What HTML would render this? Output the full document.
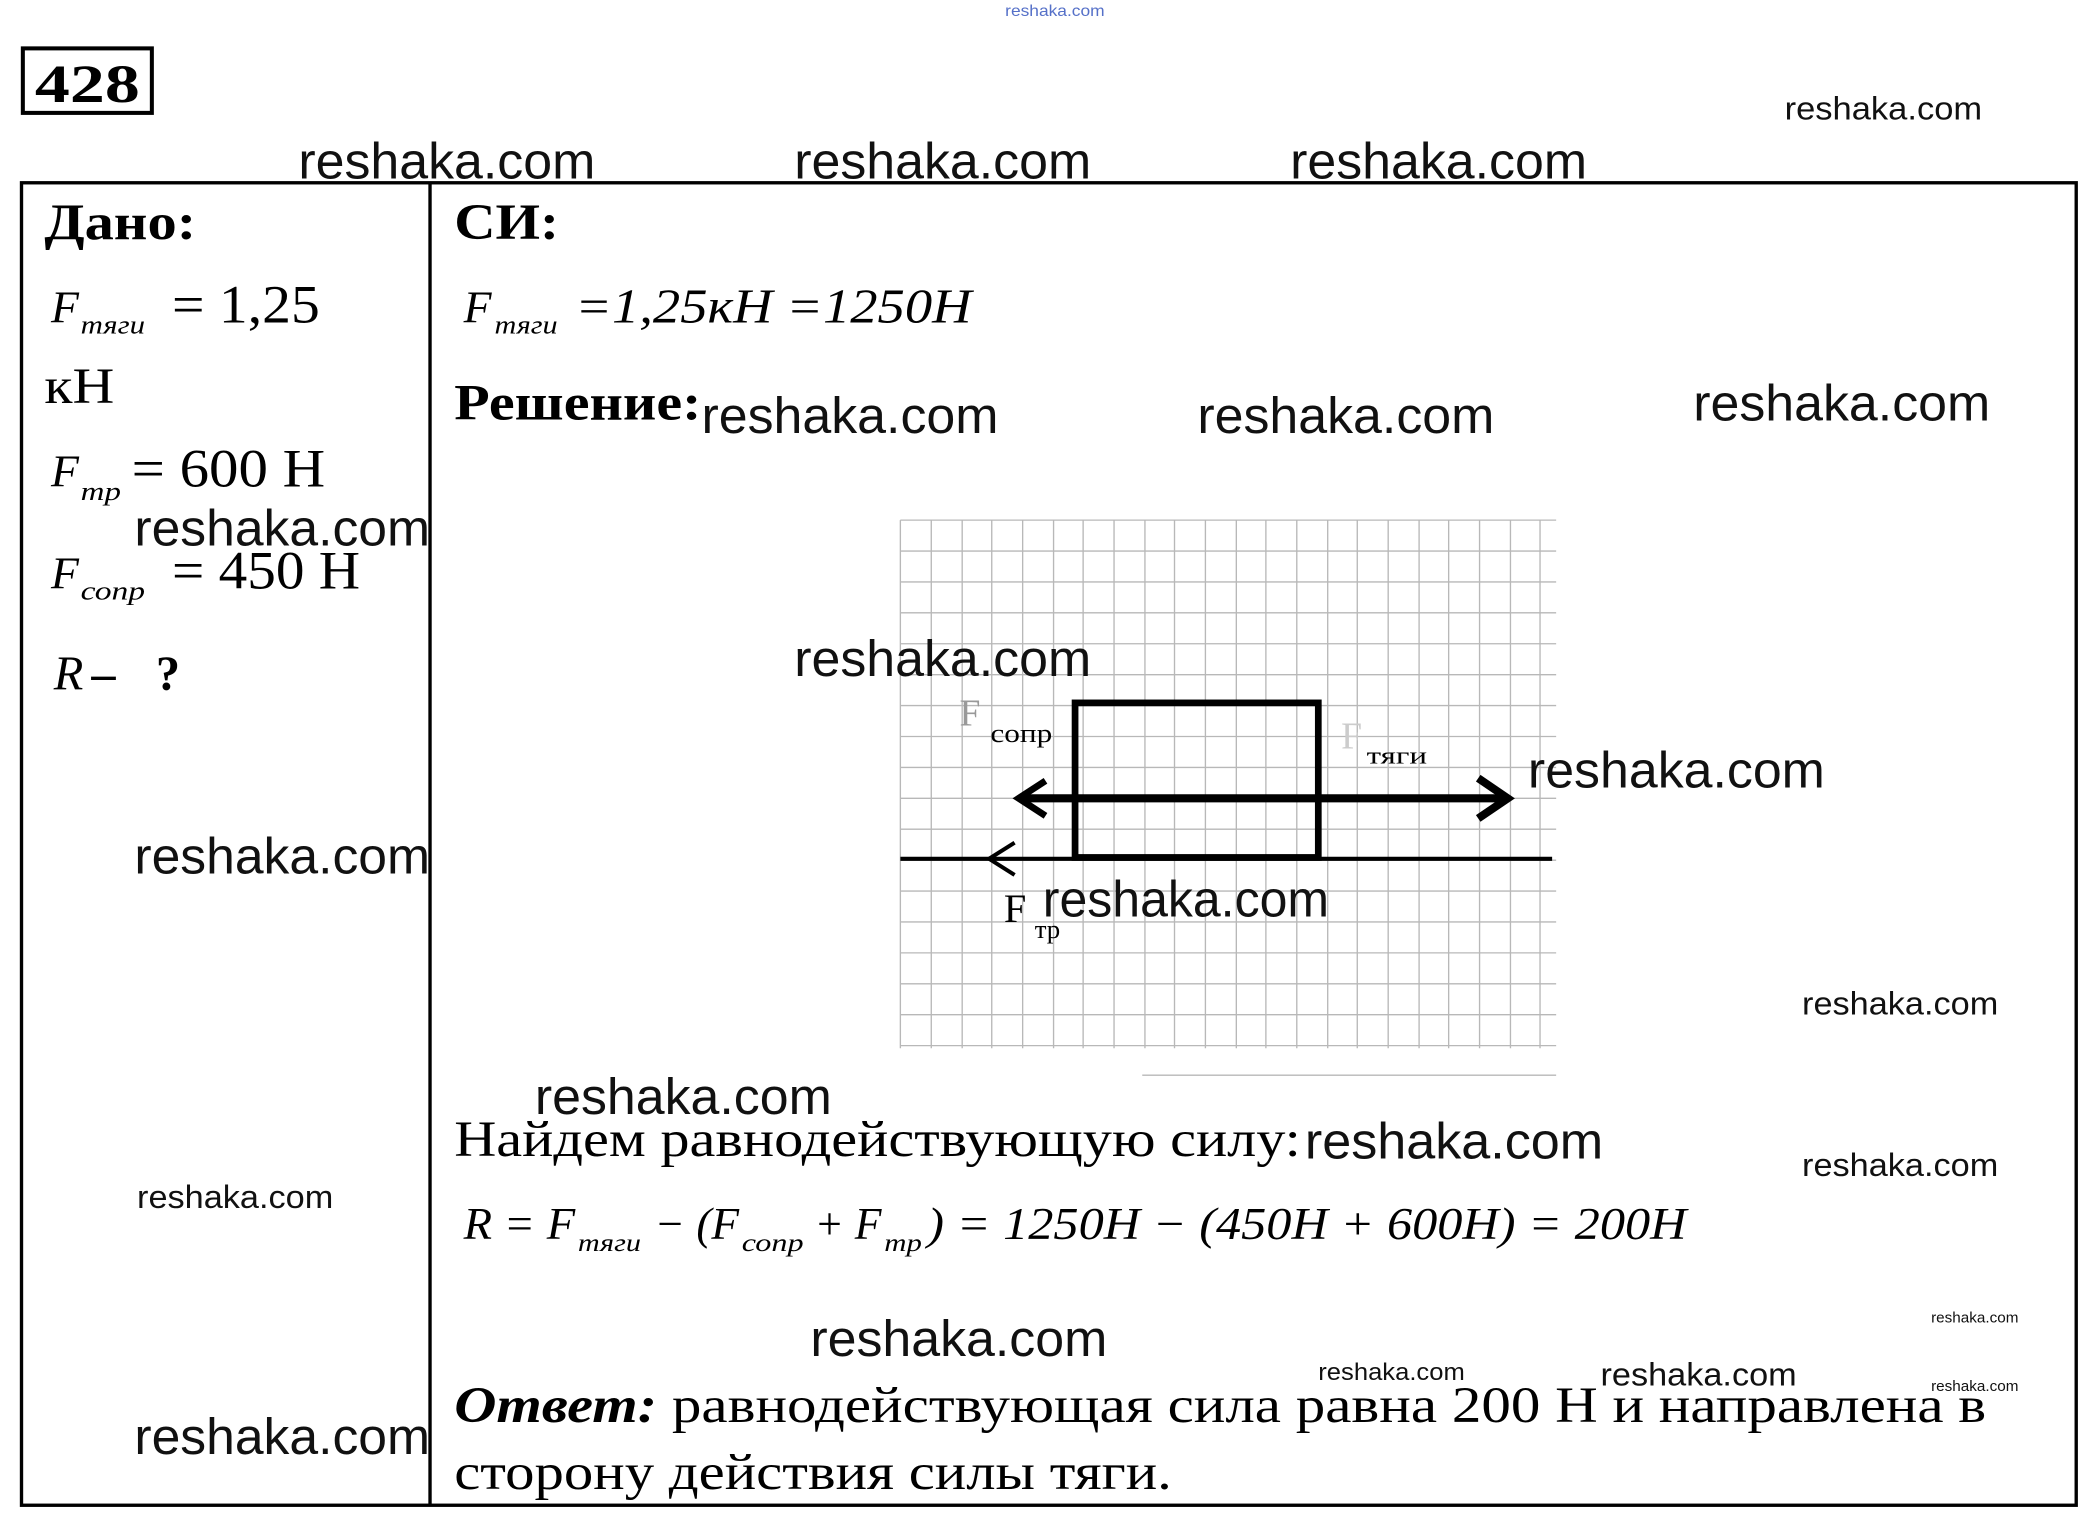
<!DOCTYPE html>
<html><head><meta charset="utf-8"><style>html,body{margin:0;padding:0;background:#fff}svg{display:block}</style></head>
<body>
<svg width="2091" height="1516" viewBox="0 0 1556 1128" preserveAspectRatio="none" xmlns="http://www.w3.org/2000/svg">
<rect width="1556" height="1128" fill="#fff"/>
<g font-family="'Liberation Serif', serif" fill="#000">
<!-- grid -->
<g stroke="#b8b8b8" stroke-width="1">
<path d="M670 387V780M693 387V780M716 387V780M738 387V780M761 387V780M784 387V780M806 387V780M829 387V780M852 387V780M874 387V780M897 387V780M920 387V780M942 387V780M965 387V780M988 387V780M1010 387V780M1033 387V780M1056 387V780M1078 387V780M1101 387V780M1124 387V780M1146 387V780"/>
<path d="M670 387H1158M670 410H1158M670 433H1158M670 456H1158M670 479H1158M670 502H1158M670 525H1158M670 548H1158M670 571H1158M670 594H1158M670 617H1158M670 640H1158M670 663H1158M670 686H1158M670 709H1158M670 732H1158M670 755H1158M670 778H1158M850 800H1158"/>
</g>
<!-- table -->
<rect x="16" y="136" width="1529" height="984" fill="none" stroke="#000" stroke-width="2.5"/>
<line x1="320" y1="136" x2="320" y2="1120" stroke="#000" stroke-width="2.5"/>
<!-- 428 -->
<rect x="17" y="36" width="96" height="48" fill="none" stroke="#000" stroke-width="3"/>
<text x="26" y="76" font-size="40" font-weight="bold" textLength="78" lengthAdjust="spacingAndGlyphs">428</text>
<!-- left column -->
<text x="33" y="178" font-size="38" font-weight="bold" textLength="113" lengthAdjust="spacingAndGlyphs">Дано:</text>
<text x="38" y="240" font-size="34" font-style="italic">F</text>
<text x="60" y="248" font-size="20" font-style="italic" textLength="48" lengthAdjust="spacingAndGlyphs">тяги</text>
<text x="128" y="240" font-size="40" textLength="110" lengthAdjust="spacingAndGlyphs">= 1,25</text>
<text x="33" y="300" font-size="38" textLength="52" lengthAdjust="spacingAndGlyphs">кН</text>
<text x="38" y="362" font-size="34" font-style="italic">F</text>
<text x="60" y="372" font-size="20" font-style="italic" textLength="30" lengthAdjust="spacingAndGlyphs">тр</text>
<text x="98" y="362" font-size="40" textLength="144" lengthAdjust="spacingAndGlyphs">= 600 Н</text>
<text x="38" y="438" font-size="34" font-style="italic">F</text>
<text x="60" y="446" font-size="20" font-style="italic" textLength="48" lengthAdjust="spacingAndGlyphs">сопр</text>
<text x="128" y="438" font-size="40" textLength="140" lengthAdjust="spacingAndGlyphs">= 450 Н</text>
<text x="40" y="513" font-size="36" font-style="italic">R</text>
<text x="68" y="513" font-size="36" font-weight="bold">–</text>
<text x="116" y="513" font-size="36" font-weight="bold">?</text>
<!-- right column -->
<text x="338" y="178" font-size="38" font-weight="bold" textLength="78" lengthAdjust="spacingAndGlyphs">СИ:</text>
<text x="345" y="240" font-size="34" font-style="italic">F</text>
<text x="368" y="248" font-size="20" font-style="italic" textLength="47" lengthAdjust="spacingAndGlyphs">тяги</text>
<text x="428" y="240" font-size="36" font-style="italic" textLength="295" lengthAdjust="spacingAndGlyphs">=1,25кН =1250Н</text>
<text x="338" y="312" font-size="38" font-weight="bold" textLength="184" lengthAdjust="spacingAndGlyphs">Решение:</text>
<!-- diagram -->
<rect x="800" y="523" width="181" height="115" fill="none" stroke="#000" stroke-width="5"/>
<line x1="760" y1="594" x2="1118" y2="594" stroke="#000" stroke-width="6"/>
<path d="M778 581L758 594L778 607" fill="none" stroke="#000" stroke-width="5"/>
<path d="M1100 579L1122 594L1100 609" fill="none" stroke="#000" stroke-width="6"/>
<line x1="670" y1="639" x2="1155" y2="639" stroke="#000" stroke-width="3"/>
<path d="M755 627L736 639L755 651" fill="none" stroke="#000" stroke-width="3"/>
<text x="714" y="540" font-size="28" fill="#999">F</text>
<text x="737" y="552" font-size="20" textLength="46" lengthAdjust="spacingAndGlyphs">сопр</text>
<text x="998" y="557" font-size="28" fill="#ccc">F</text>
<text x="1017" y="568" font-size="18" textLength="45" lengthAdjust="spacingAndGlyphs">тяги</text>
<text x="747" y="686" font-size="30">F</text>
<text x="770" y="698" font-size="20">тр</text>
<!-- bottom text -->
<text x="338" y="860" font-size="38" textLength="630" lengthAdjust="spacingAndGlyphs">Найдем равнодействующую силу:</text>
<text x="345" y="922" font-size="34" font-style="italic" textLength="83" lengthAdjust="spacingAndGlyphs">R = F</text>
<text x="430" y="931" font-size="19" font-style="italic" textLength="47" lengthAdjust="spacingAndGlyphs">тяги</text>
<text x="487" y="922" font-size="34" font-style="italic" textLength="63" lengthAdjust="spacingAndGlyphs">− (F</text>
<text x="552" y="931" font-size="19" font-style="italic" textLength="46" lengthAdjust="spacingAndGlyphs">сопр</text>
<text x="606" y="922" font-size="34" font-style="italic" textLength="50" lengthAdjust="spacingAndGlyphs">+ F</text>
<text x="658" y="931" font-size="19" font-style="italic" textLength="28" lengthAdjust="spacingAndGlyphs">тр</text>
<text x="690" y="922" font-size="34" font-style="italic" textLength="565" lengthAdjust="spacingAndGlyphs">) = 1250H − (450H + 600H) = 200H</text>
<text x="338" y="1058" font-size="38" font-weight="bold" font-style="italic" textLength="151" lengthAdjust="spacingAndGlyphs">Ответ:</text>
<text x="500" y="1058" font-size="38" textLength="978" lengthAdjust="spacingAndGlyphs">равнодействующая сила равна 200 Н и направлена в</text>
<text x="338" y="1108" font-size="38" textLength="534" lengthAdjust="spacingAndGlyphs">сторону действия силы тяги.</text>
</g>
<!-- watermarks -->
<g font-family="'Liberation Sans', sans-serif" fill="#111" lengthAdjust="spacingAndGlyphs">
<text x="748" y="12" font-size="12" fill="#5570c8" textLength="74" lengthAdjust="spacingAndGlyphs">reshaka.com</text>
<text x="1328" y="89" font-size="24" textLength="147" lengthAdjust="spacingAndGlyphs">reshaka.com</text>
<text x="222" y="133" font-size="38" textLength="221" lengthAdjust="spacingAndGlyphs">reshaka.com</text>
<text x="591" y="133" font-size="38" textLength="221" lengthAdjust="spacingAndGlyphs">reshaka.com</text>
<text x="960" y="133" font-size="38" textLength="221" lengthAdjust="spacingAndGlyphs">reshaka.com</text>
<text x="522" y="322" font-size="38" textLength="221" lengthAdjust="spacingAndGlyphs">reshaka.com</text>
<text x="891" y="322" font-size="38" textLength="221" lengthAdjust="spacingAndGlyphs">reshaka.com</text>
<text x="1260" y="313" font-size="38" textLength="221" lengthAdjust="spacingAndGlyphs">reshaka.com</text>
<text x="100" y="406" font-size="38" textLength="220" lengthAdjust="spacingAndGlyphs">reshaka.com</text>
<text x="100" y="650" font-size="38" textLength="220" lengthAdjust="spacingAndGlyphs">reshaka.com</text>
<text x="102" y="899" font-size="24" textLength="146" lengthAdjust="spacingAndGlyphs">reshaka.com</text>
<text x="100" y="1082" font-size="38" textLength="220" lengthAdjust="spacingAndGlyphs">reshaka.com</text>
<text x="591" y="503" font-size="38" textLength="221" lengthAdjust="spacingAndGlyphs">reshaka.com</text>
<text x="1137" y="586" font-size="38" textLength="221" lengthAdjust="spacingAndGlyphs">reshaka.com</text>
<text x="776" y="682" font-size="38" textLength="213" lengthAdjust="spacingAndGlyphs">reshaka.com</text>
<text x="1341" y="755" font-size="24" textLength="146" lengthAdjust="spacingAndGlyphs">reshaka.com</text>
<text x="1341" y="875" font-size="24" textLength="146" lengthAdjust="spacingAndGlyphs">reshaka.com</text>
<text x="398" y="829" font-size="38" textLength="221" lengthAdjust="spacingAndGlyphs">reshaka.com</text>
<text x="971" y="862" font-size="38" textLength="222" lengthAdjust="spacingAndGlyphs">reshaka.com</text>
<text x="603" y="1009" font-size="38" textLength="221" lengthAdjust="spacingAndGlyphs">reshaka.com</text>
<text x="981" y="1027" font-size="18" textLength="109" lengthAdjust="spacingAndGlyphs">reshaka.com</text>
<text x="1191" y="1031" font-size="24" textLength="146" lengthAdjust="spacingAndGlyphs">reshaka.com</text>
<text x="1437" y="984" font-size="11" textLength="65" lengthAdjust="spacingAndGlyphs">reshaka.com</text>
<text x="1437" y="1035" font-size="11" textLength="65" lengthAdjust="spacingAndGlyphs">reshaka.com</text>
</g>
</svg>
</body></html>
